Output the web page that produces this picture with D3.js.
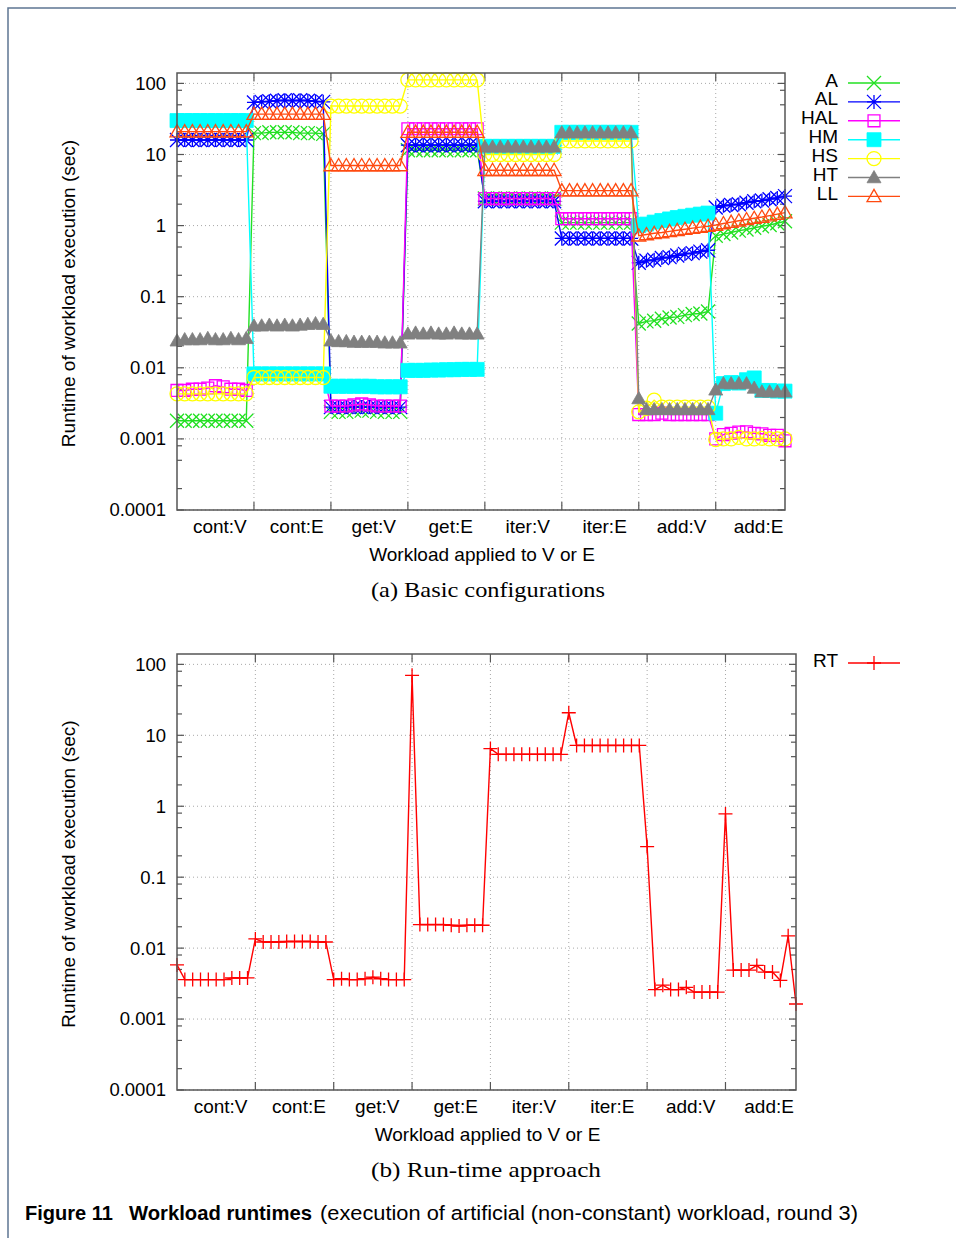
<!DOCTYPE html>
<html>
<head>
<meta charset="utf-8">
<script src="https://cdn.jsdelivr.net/npm/d3@7"></script>
<style>
body{margin:0;background:#fff}
svg{display:block}
text{font-family:"Liberation Sans",Arial,Helvetica,sans-serif;fill:#000}
</style>
</head>
<body>
<svg id="fig" width="956" height="1238"></svg>
<script>

var categories = ["cont:V","cont:E","get:V","get:E","iter:V","iter:E","add:V","add:E"];
var y_ticks    = [0.0001, 0.001, 0.01, 0.1, 1, 10, 100];
var y_labels   = ["0.0001","0.001","0.01","0.1","1","10","100"];
var series_names = ["A","AL","HAL","HM","HS","HT","LL"];

// basic configurations, 10 runs per workload
var A = [
 0.0018,0.0018,0.0018,0.0018,0.0018,0.0018,0.0018,0.0018,0.0018,0.0018,
 20,20,20.5,20.5,20.5,20.5,20,20,20,19.5,
 0.0024,0.0024,0.0024,0.0025,0.0025,0.0025,0.0024,0.0024,0.0024,0.0024,
 11.5,11.5,11.5,11.5,11.5,11.5,11.5,11.5,11.5,11.5,
 2.4,2.4,2.4,2.4,2.4,2.4,2.4,2.4,2.4,2.4,
 1.1,1.1,1.1,1.1,1.1,1.1,1.1,1.1,1.1,1.1,
 0.042,0.045,0.046,0.049,0.051,0.052,0.055,0.057,0.058,0.062,
 0.72,0.76,0.8,0.85,0.88,0.93,0.98,1.02,1.08,1.15];
var AL = [
 16,16,16,16,16,16,16,16,16,16,
 54,55,56,57,58,57,58,57,56,55,
 0.0028,0.0028,0.0028,0.0028,0.0028,0.0028,0.0028,0.0028,0.0028,0.0028,
 13.5,13.5,13.5,13.5,13.5,13.5,13.5,13.5,13.5,13.5,
 2.2,2.2,2.2,2.2,2.2,2.2,2.2,2.2,2.2,2.2,
 0.66,0.66,0.66,0.66,0.66,0.66,0.66,0.66,0.66,0.66,
 0.30,0.32,0.33,0.35,0.36,0.38,0.40,0.41,0.43,0.45,
 1.8,1.9,1.95,2.0,2.1,2.2,2.25,2.35,2.45,2.6];
var HAL = [
 0.0048,0.0048,0.005,0.005,0.0052,0.0056,0.0054,0.005,0.005,0.0048,
 0.0082,0.0082,0.0082,0.0082,0.0082,0.0082,0.0082,0.0082,0.0082,0.0082,
 0.0029,0.0029,0.0029,0.003,0.0031,0.003,0.0029,0.0029,0.0029,0.0029,
 23,23,23,23,23,23,23,23,23,23,
 2.4,2.4,2.4,2.4,2.4,2.4,2.4,2.4,2.4,2.4,
 1.25,1.25,1.25,1.25,1.25,1.25,1.25,1.25,1.25,1.25,
 0.0022,0.0022,0.0022,0.0023,0.0022,0.0022,0.0022,0.0022,0.0022,0.0022,
 0.001,0.00115,0.0012,0.00125,0.00126,0.0012,0.00118,0.00112,0.00112,0.00094];
var HM = [
 30,30,30,30,30,30,30,30,30,30,
 0.0082,0.0082,0.0082,0.0082,0.0082,0.0082,0.0082,0.0082,0.0082,0.0082,
 0.0055,0.0055,0.0055,0.0055,0.0055,0.0055,0.0054,0.0054,0.0054,0.0054,
 0.0092,0.0092,0.0092,0.0093,0.0093,0.0094,0.0094,0.0095,0.0095,0.0095,
 13,13,13,13,13,13,13,13,13,13,
 20.5,20.5,20.5,20.5,20.5,20.5,20.5,20.5,20.5,20.5,
 1.0,1.05,1.12,1.18,1.24,1.3,1.35,1.4,1.45,1.5,
 0.0023,0.006,0.0062,0.0061,0.0068,0.0072,0.0048,0.0048,0.0047,0.0047];
var HS = [
 0.0043,0.0043,0.0043,0.0043,0.0043,0.0043,0.0043,0.0043,0.0043,0.0043,
 0.0073,0.0073,0.0073,0.0073,0.0073,0.0073,0.0073,0.0073,0.0073,0.0073,
 48,48,48,48,48,48,48,48,48,48,
 112,112,112,112,112,112,112,112,112,112,
 10,10,10,10,10,10,10,10,10,10,
 15.5,15.5,15.5,15.5,15.5,15.5,15.5,15.5,15.5,15.5,
 0.0024,0.0027,0.0035,0.0028,0.0028,0.0028,0.0028,0.0028,0.0028,0.0028,
 0.00098,0.001,0.001,0.00105,0.001,0.001,0.00102,0.001,0.001,0.001];
var HT = [
 0.024,0.025,0.025,0.025,0.026,0.025,0.025,0.026,0.025,0.026,
 0.039,0.039,0.04,0.039,0.04,0.039,0.04,0.041,0.042,0.041,
 0.024,0.0235,0.0235,0.023,0.023,0.023,0.023,0.0225,0.0225,0.0225,
 0.030,0.031,0.030,0.031,0.030,0.030,0.031,0.030,0.030,0.030,
 12.8,12.8,12.8,12.8,12.8,12.8,12.8,12.8,12.8,12.8,
 20.3,20.3,20.3,20.3,20.3,20.3,20.3,20.3,20.3,20.3,
 0.0037,0.0026,0.0026,0.0026,0.0026,0.0026,0.0026,0.0026,0.0026,0.0026,
 0.0049,0.006,0.006,0.006,0.006,0.0052,0.0046,0.0046,0.0046,0.0046];
var LL = [
 21,21,21,21,21,21,21,21,21,21,
 37,37,37,37,37,37,37,37,37,37,
 7,7,7,7,7,7,7,7,7,7,
 20.6,20.6,20.6,20.6,20.6,20.6,20.6,20.6,20.6,20.6,
 6,6,6,6,6,6,6,6,6,6,
 3.1,3.1,3.1,3.1,3.1,3.1,3.1,3.1,3.1,3.1,
 0.72,0.75,0.78,0.8,0.83,0.86,0.89,0.92,0.95,0.98,
 1.02,1.07,1.12,1.17,1.22,1.27,1.32,1.38,1.45,1.52];

// run-time approach
var RT = [
 0.0058,0.0036,0.0036,0.0036,0.0036,0.0036,0.0036,0.0038,0.0038,0.0038,
 0.0135,0.0122,0.0122,0.0122,0.0124,0.0124,0.0124,0.0124,0.0122,0.0122,
 0.0036,0.0037,0.0036,0.0036,0.0037,0.0039,0.0037,0.0036,0.0036,0.0036,
 70,0.0215,0.0215,0.0215,0.0215,0.021,0.0205,0.021,0.021,0.021,
 6.5,5.4,5.4,5.4,5.4,5.4,5.4,5.4,5.4,5.4,
 20.8,7.2,7.2,7.2,7.2,7.2,7.2,7.2,7.2,7.2,
 0.27,0.0026,0.003,0.0026,0.0026,0.0028,0.0024,0.0024,0.0024,0.0024,
 0.78,0.0049,0.0049,0.0049,0.0057,0.0046,0.0046,0.0035,0.0149,0.00163];

var top_series = [A, AL, HAL, HM, HS, HT, LL];
var top_colors = ["#22e022","#0000ff","#ff00ff","#00ffff","#ffff00","#808080","#ff4a10"];
var top_marks  = ["x","star","square","fsquare","circle","ftri","tri"];

var svg = d3.select("#fig");

// outer frame of the figure page
svg.append("path")
    .attr("d", "M8,1238V8H956")
    .attr("fill", "none")
    .attr("stroke", "#5d7593")
    .attr("stroke-width", 1.5);

function marker_path( type, s ){
    if( type == "x" )
        return "M"+(-s)+","+(-s)+"L"+s+","+s+"M"+(-s)+","+s+"L"+s+","+(-s);
    if( type == "plus" )
        return "M"+(-s)+",0H"+s+"M0,"+(-s)+"V"+s;
    if( type == "star" )
        return "M"+(-s)+",0H"+s+"M0,"+(-s)+"V"+s+
               "M"+(-s)+","+(-s)+"L"+s+","+s+"M"+(-s)+","+s+"L"+s+","+(-s);
    if( type == "square" ){
        var q = s*0.85;
        return "M"+(-q)+","+(-q)+"H"+q+"V"+q+"H"+(-q)+"Z";
    }
    if( type == "fsquare" )
        return "M"+(-s)+","+(-s)+"H"+s+"V"+s+"H"+(-s)+"Z";
    if( type == "circle" )
        return "M"+s+",0A"+s+","+s+" 0 1,1 "+(-s)+",0A"+s+","+s+" 0 1,1 "+s+",0Z";
    // triangles
    return "M0,"+(-s)+"L"+s+","+(s*0.75)+"L"+(-s)+","+(s*0.75)+"Z";
}

function draw_marker( g, type, color, x, y, s ){
    var filled = (type == "fsquare" || type == "ftri");
    g.append("path")
        .attr("transform", "translate(" + x + "," + y + ")")
        .attr("d", marker_path(type, s))
        .attr("fill", filled ? color : "none")
        .attr("stroke", color)
        .attr("stroke-width", filled ? 0.8 : 1.3);
}

function add_panel( p ){
    var xAxis = d3.scaleLinear().domain([0, 79]).range([p.left, p.right]);
    var yAxis = d3.scaleLog().domain([0.0001, 140]).range([p.bottom, p.top]);
    var g = svg.append("g");

    // dotted grid
    var grid = g.append("g").attr("stroke", "#a8a8a8").attr("stroke-width", 1)
                 .attr("stroke-dasharray", "1,3");
    y_ticks.forEach(function(v){
        grid.append("line").attr("x1", p.left).attr("x2", p.right)
            .attr("y1", yAxis(v)).attr("y2", yAxis(v));
    });
    d3.range(10, 80, 10).forEach(function(v){
        grid.append("line").attr("x1", xAxis(v)).attr("x2", xAxis(v))
            .attr("y1", p.top).attr("y2", p.bottom);
    });

    // minor log ticks (2, 5, 8 per decade)
    var minor = [];
    y_ticks.slice(0, -1).forEach(function(v){ minor.push(v*2, v*5, v*8); });
    var tk = g.append("g").attr("stroke", "#555").attr("stroke-width", 1.2);
    minor.forEach(function(v){
        tk.append("line").attr("x1", p.left).attr("x2", p.left+5).attr("y1", yAxis(v)).attr("y2", yAxis(v));
        tk.append("line").attr("x1", p.right).attr("x2", p.right-5).attr("y1", yAxis(v)).attr("y2", yAxis(v));
    });
    y_ticks.forEach(function(v){
        tk.append("line").attr("x1", p.left).attr("x2", p.left+7).attr("y1", yAxis(v)).attr("y2", yAxis(v));
        tk.append("line").attr("x1", p.right).attr("x2", p.right-7).attr("y1", yAxis(v)).attr("y2", yAxis(v));
    });
    d3.range(10, 80, 10).forEach(function(v){
        tk.append("line").attr("x1", xAxis(v)).attr("x2", xAxis(v)).attr("y1", p.bottom).attr("y2", p.bottom-8);
        tk.append("line").attr("x1", xAxis(v)).attr("x2", xAxis(v)).attr("y1", p.top).attr("y2", p.top+8);
    });

    // tick labels
    var yl = g.append("g")
        .attr("transform", "translate(" + p.left + ",0)")
        .call(d3.axisLeft(yAxis).tickValues(y_ticks).tickSize(0).tickPadding(11)
                .tickFormat(function(d, i){ return y_labels[i]; }));
    yl.select(".domain").remove();
    yl.selectAll("text").style("font-size", "18.5px").style("font-family", null);

    var xl = g.append("g")
        .attr("transform", "translate(0," + p.bottom + ")")
        .call(d3.axisBottom(xAxis).tickValues(d3.range(5.5, 80, 10)).tickSize(0).tickPadding(10)
                .tickFormat(function(d, i){ return categories[i]; }));
    xl.select(".domain").remove();
    xl.selectAll("text").style("font-size", "19px").style("font-family", null);

    // axis titles
    g.append("text")
        .attr("transform", "translate(75," + ((p.top + p.bottom)/2 + 2) + ") rotate(-90)")
        .attr("text-anchor", "middle").style("font-size", "19px")
        .text("Runtime of workload execution (sec)");
    g.append("text")
        .attr("x", (p.left + p.right)/2 + 1).attr("y", p.bottom + 51)
        .attr("text-anchor", "middle").style("font-size", "19px")
        .text("Workload applied to V or E");

    // series
    p.series.forEach(function(data, k){
        var col = p.colors[k];
        var sg = g.append("g");
        sg.append("path")
            .datum(data)
            .attr("fill", "none")
            .attr("stroke", col)
            .attr("stroke-width", 1.4)
            .attr("d", d3.line()
                    .x(function(d, i){ return xAxis(i); })
                    .y(function(d){ return yAxis(d); }));
        data.forEach(function(d, i){
            draw_marker(sg, p.marks[k], col, xAxis(i), yAxis(d), 7);
        });

        // key entry
        var ky = p.keyTop + k*18.9;
        g.append("text").attr("x", 838).attr("y", ky + 3.5)
            .attr("text-anchor", "end").style("font-size", "19px").text(p.names[k]);
        g.append("line").attr("x1", 848).attr("x2", 900).attr("y1", ky).attr("y2", ky)
            .attr("stroke", col).attr("stroke-width", 1.4);
        draw_marker(g, p.marks[k], col, 874, ky, 7);
    });

    // frame
    g.append("rect")
        .attr("x", p.left).attr("y", p.top)
        .attr("width", p.right - p.left).attr("height", p.bottom - p.top)
        .attr("fill", "none").attr("stroke", "#555").attr("stroke-width", 1.5);

    // sub caption
    svg.append("text")
        .attr("x", p.capX).attr("y", p.bottom + 87)
        .attr("text-anchor", "middle")
        .attr("textLength", p.capW).attr("lengthAdjust", "spacingAndGlyphs")
        .style("font-family", "'Liberation Serif','DejaVu Serif',serif")
        .style("font-size", "22px")
        .text(p.caption);
}

add_panel({ left: 177, right: 785, top: 73, bottom: 510, keyTop: 83,
            series: top_series, colors: top_colors, marks: top_marks, names: series_names,
            caption: "(a) Basic configurations", capX: 488, capW: 234 });

add_panel({ left: 177, right: 796, top: 654, bottom: 1090, keyTop: 663,
            series: [RT], colors: ["#ff0000"], marks: ["plus"], names: ["RT"],
            caption: "(b) Run-time approach", capX: 486, capW: 230 });

// figure caption
var cap_parts = [
    { t: "Figure 11",         x: 25,  w: 88,  bold: true },
    { t: "Workload runtimes", x: 129, w: 183, bold: true },
    { t: "(execution of artificial (non-constant) workload, round 3)", x: 320, w: 538, bold: false }
];
cap_parts.forEach(function(c){
    svg.append("text")
        .attr("x", c.x).attr("y", 1220)
        .attr("textLength", c.w).attr("lengthAdjust", "spacingAndGlyphs")
        .style("font-size", "20.5px")
        .style("font-weight", c.bold ? "bold" : "normal")
        .text(c.t);
});

</script>
</body>
</html>
